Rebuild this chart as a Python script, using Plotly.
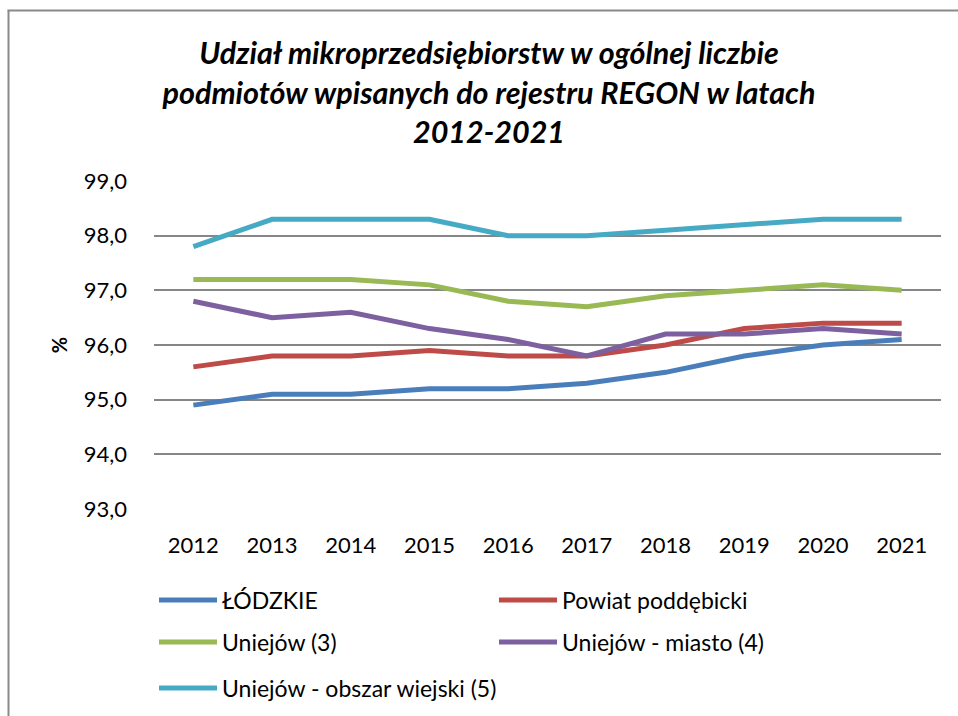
import plotly.graph_objects as go

years = ["2012", "2013", "2014", "2015", "2016", "2017", "2018", "2019", "2020", "2021"]

lodzkie = [94.9, 95.1, 95.1, 95.2, 95.2, 95.3, 95.5, 95.8, 96.0, 96.1]
powiat = [95.6, 95.8, 95.8, 95.9, 95.8, 95.8, 96.0, 96.3, 96.4, 96.4]
uniejow = [97.2, 97.2, 97.2, 97.1, 96.8, 96.7, 96.9, 97.0, 97.1, 97.0]
uniejow_miasto = [96.8, 96.5, 96.6, 96.3, 96.1, 95.8, 96.2, 96.2, 96.3, 96.2]
uniejow_wies = [97.8, 98.3, 98.3, 98.3, 98.0, 98.0, 98.1, 98.2, 98.3, 98.3]

series = [
    ("ŁÓDZKIE", lodzkie, "#4A7EBB", "legend"),
    ("Powiat poddębicki", powiat, "#BE4B48", "legend"),
    ("Uniejów (3)", uniejow, "#98B954", "legend2"),
    ("Uniejów - miasto (4)", uniejow_miasto, "#7D60A0", "legend2"),
    ("Uniejów - obszar wiejski (5)", uniejow_wies, "#46AAC5", "legend3"),
]

FONT = "Lato"
W, H = 958, 716
L, R, T, B = 154, 17, 181, 207

fig = go.Figure()
for name, vals, color, leg in series:
    fig.add_trace(go.Scatter(
        x=years, y=vals, name=name, mode="lines",
        line=dict(color=color, width=5),
        legend=leg,
    ))

def legend_row(ypx, entry=267):
    return dict(
        orientation="h", xref="container", yref="container",
        x=154 / W, y=1 - ypx / H, xanchor="left", yanchor="middle",
        font=dict(family=FONT, size=23, color="#000000"),
        entrywidth=entry, entrywidthmode="pixels",
        bgcolor="rgba(0,0,0,0)", itemwidth=58,
    )

# chart frame (left and top edges)
px2x = lambda px: (px - L) / (W - L - R)
px2y = lambda py: (H - B - py) / (H - T - B)
frame = dict(color="#898989", width=2)
shapes = [
    dict(type="line", xref="paper", yref="paper",
         x0=px2x(8.5), x1=px2x(8.5), y0=px2y(10.5), y1=px2y(730), line=frame),
    dict(type="line", xref="paper", yref="paper",
         x0=px2x(7.5), x1=px2x(970), y0=px2y(10.5), y1=px2y(10.5), line=frame),
]

fig.update_layout(
    width=W, height=H,
    margin=dict(l=L, r=R, t=T, b=B),
    paper_bgcolor="white", plot_bgcolor="white",
    font=dict(family=FONT, color="#000000"),
    title=dict(
        text="<b><i>Udział mikroprzedsiębiorstw w ogólnej liczbie<br>"
             "podmiotów wpisanych do rejestru REGON w latach<br>"
             "2012-2021</i></b>",
        x=489 / W, xanchor="center", xref="container",
        y=1 - 64 / H, yanchor="middle", yref="container",
        font=dict(family=FONT, size=30.5, color="#000000"),
    ),
    xaxis=dict(
        type="category", range=[-0.5, len(years) - 0.5],
        showgrid=False, zeroline=False, showline=False,
        ticks="", tickfont=dict(family=FONT, size=22), ticklabelstandoff=21,
    ),
    yaxis=dict(
        range=[93, 99], dtick=1, tickformat=".1f",
        showgrid=True, gridcolor="#868686", gridwidth=2,
        zeroline=False, showline=False, ticks="",
        tickfont=dict(family=FONT, size=22), ticklabelstandoff=26,
        title=dict(text="<b>%</b>", font=dict(family=FONT, size=20), standoff=10),
    ),
    separators=",.",
    showlegend=True,
    legend=legend_row(600),
    legend2=legend_row(642),
    legend3=legend_row(688, entry=420),
    shapes=shapes,
)

fig.write_html("out.html", config={"displayModeBar": False})
